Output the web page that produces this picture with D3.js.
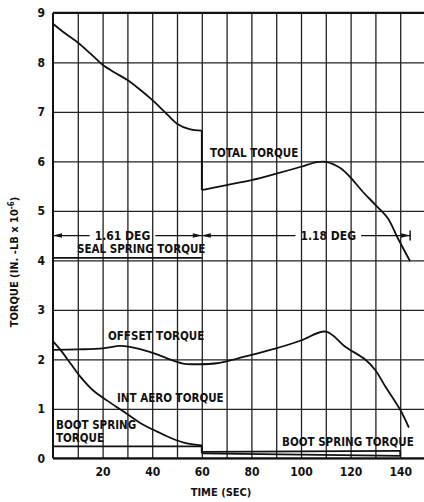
<!DOCTYPE html>
<html>
<head>
<meta charset="utf-8">
<script src="https://cdn.jsdelivr.net/npm/d3@7"></script>
<style>
  body { margin: 0; background: #fff; }
  svg { display: block; }
  text { font-family: "DejaVu Sans Condensed", "Liberation Sans Narrow", "Roboto Condensed", "Liberation Sans", sans-serif; fill: #111; }
</style>
</head>
<body>
<div id="chart"></div>
<script>
// chart values
const xTicks = [20, 40, 60, 80, 100, 120, 140];
const yTicks = [0, 1, 2, 3, 4, 5, 6, 7, 8, 9];
const xGrid = [10, 20, 30, 40, 50, 60, 70, 80, 90, 100, 110, 120, 130, 140];

// total torque, before and after the step at 60 sec
const totalTimeA = [0, 5, 10, 15, 20, 25, 30, 35, 40, 45, 50, 55, 60];
const totalTorqueA = [8.78, 8.58, 8.40, 8.18, 7.95, 7.79, 7.64, 7.45, 7.24, 7.00, 6.76, 6.65, 6.62];
const totalTimeB = [60, 70, 80, 90, 100, 106, 110, 116, 120, 125, 130, 135, 139, 144];
const totalTorqueB = [5.42, 5.52, 5.62, 5.75, 5.89, 5.98, 5.99, 5.86, 5.67, 5.38, 5.12, 4.85, 4.45, 3.98];

const offsetTime = [0, 10, 20, 27, 31, 39, 46, 52, 58, 66, 74, 80, 90, 100, 110, 118, 126, 130, 134, 140, 143.5];
const offsetTorque = [2.19, 2.20, 2.22, 2.27, 2.25, 2.15, 2.02, 1.92, 1.90, 1.92, 2.01, 2.09, 2.22, 2.38, 2.56, 2.25, 1.99, 1.78, 1.45, 0.98, 0.62];

const aeroTimeA = [0, 3, 7, 11, 16, 22, 28, 35, 42, 48, 54, 60];
const aeroTorqueA = [2.36, 2.19, 1.92, 1.65, 1.38, 1.16, 0.96, 0.72, 0.54, 0.40, 0.30, 0.26];
const aeroTimeB = [60, 140];
const aeroTorqueB = [0.10, 0.05];

const bootTimeA = [0, 60];
const bootTorqueA = [0.24, 0.24];
const bootTimeB = [60, 140];
const bootTorqueB = [0.13, 0.15];

const sealTime = [0, 60];
const sealTorque = [4.05, 4.05];

// dimension bars for the seal angles
const dimStart = [0, 60];
const dimEnd = [60, 144];
const dimLabel = ["1.61 DEG", "1.18 DEG"];
const dimLabelTime = [28, 111];
const dimTorque = 4.5;

const width = 424, height = 502;
const x = d3.scaleLinear().domain([0, 150]).range([53, 425]);
const y = d3.scaleLinear().domain([0, 9]).range([458.3, 12.8]);

const svg = d3.select("#chart").append("svg")
    .attr("width", width)
    .attr("height", height);

//grid
svg.append("g")
    .attr("transform", "translate(0," + y(0) + ")")
    .call(d3.axisBottom(x).tickValues(xGrid).tickSizeInner(-(y(0) - y(9))).tickSizeOuter(0).tickFormat(""))
    .call(g => g.select(".domain").remove())
    .call(g => g.selectAll("line").attr("stroke", "#222").attr("stroke-width", 1.3));

svg.append("g")
    .attr("transform", "translate(" + x(0) + ",0)")
    .call(d3.axisLeft(y).tickValues(yTicks).tickSizeInner(-(x(150) - x(0))).tickSizeOuter(0).tickFormat(""))
    .call(g => g.select(".domain").remove())
    .call(g => g.selectAll("line").attr("stroke", "#222").attr("stroke-width", 1.3));

//frame
svg.append("line")
    .attr("x1", x(0)).attr("x2", x(0))
    .attr("y1", y(0)).attr("y2", y(9))
    .attr("stroke", "#111").attr("stroke-width", 2);
svg.append("line")
    .attr("x1", x(0)).attr("x2", x(150))
    .attr("y1", y(0)).attr("y2", y(0))
    .attr("stroke", "#111").attr("stroke-width", 2);
svg.append("line")
    .attr("x1", x(0)).attr("x2", x(150))
    .attr("y1", y(9)).attr("y2", y(9))
    .attr("stroke", "#111").attr("stroke-width", 2);

//tick labels
svg.append("g")
    .attr("transform", "translate(0," + y(0) + ")")
    .call(d3.axisBottom(x).tickValues(xTicks).tickSize(0).tickPadding(9))
    .call(g => g.select(".domain").remove())
    .call(g => g.selectAll("text").attr("font-size", 12).attr("font-weight", "bold").style("font-family", null));

svg.append("g")
    .attr("transform", "translate(" + x(0) + ",0)")
    .call(d3.axisLeft(y).tickValues(yTicks).tickSize(0).tickPadding(8))
    .call(g => g.select(".domain").remove())
    .call(g => g.selectAll("text").attr("font-size", 12).attr("font-weight", "bold").style("font-family", null));

//axis titles
svg.append("text")
    .attr("x", 221).attr("y", 496)
    .attr("text-anchor", "middle")
    .attr("font-size", 11).attr("font-weight", "bold")
    .text("TIME (SEC)");

const yTitle = svg.append("text")
    .attr("transform", "translate(18,262) rotate(-90)")
    .attr("text-anchor", "middle")
    .attr("font-size", 11).attr("font-weight", "bold");
yTitle.append("tspan").text("TORQUE (IN. -LB x 10");
yTitle.append("tspan").attr("dy", -4).attr("font-size", 8).text("-6");
yTitle.append("tspan").attr("dy", 4).text(")");

//curves
const smooth = d3.curveCatmullRom.alpha(0.5);

function drawCurve(times, values, curve) {
    const pts = times.map((t, i) => [t, values[i]]);
    svg.append("path")
        .datum(pts)
        .attr("fill", "none")
        .attr("stroke", "#111")
        .attr("stroke-width", 1.8)
        .attr("d", d3.line().x(d => x(d[0])).y(d => y(d[1])).curve(curve || smooth));
}

function drawStep(t, from, to) { //vertical jump between two segments
    svg.append("line")
        .attr("x1", x(t)).attr("x2", x(t))
        .attr("y1", y(from)).attr("y2", y(to))
        .attr("stroke", "#111").attr("stroke-width", 1.8);
}

drawCurve(totalTimeA, totalTorqueA);
drawStep(60, totalTorqueA[totalTorqueA.length - 1], totalTorqueB[0]);
drawCurve(totalTimeB, totalTorqueB);

drawCurve(offsetTime, offsetTorque);

drawCurve(aeroTimeA, aeroTorqueA);
drawStep(60, aeroTorqueA[aeroTorqueA.length - 1], aeroTorqueB[0]);
drawCurve(aeroTimeB, aeroTorqueB, d3.curveLinear);

drawCurve(bootTimeA, bootTorqueA, d3.curveLinear);
drawStep(60, bootTorqueA[1], bootTorqueB[0]);
drawCurve(bootTimeB, bootTorqueB, d3.curveLinear);
drawStep(140, bootTorqueB[1], aeroTorqueB[1]);

drawCurve(sealTime, sealTorque, d3.curveLinear);

//dimension bars
dimStart.forEach((s, i) => {
    const yy = y(dimTorque);
    const cx = x(dimLabelTime[i]);
    const txt = svg.append("text")
        .attr("x", cx).attr("y", yy + 4)
        .attr("text-anchor", "middle")
        .attr("font-size", 12).attr("font-weight", "bold")
        .text(dimLabel[i]);
    const half = txt.node().getComputedTextLength() / 2 + 5;
    [[x(s), cx - half], [cx + half, x(dimEnd[i])]].forEach(seg => {
        svg.append("line")
            .attr("x1", seg[0]).attr("x2", seg[1])
            .attr("y1", yy).attr("y2", yy)
            .attr("stroke", "#111").attr("stroke-width", 1.3);
    });
    // arrow heads at both ends
    [[x(s), 1], [x(dimEnd[i]), -1]].forEach(a => {
        svg.append("path")
            .attr("d", "M" + a[0] + "," + yy + "l" + (a[1] * 9) + ",-2.2v4.4z")
            .attr("fill", "#111");
    });
});
// end mark of the second bar
svg.append("line")
    .attr("x1", x(dimEnd[1])).attr("x2", x(dimEnd[1]))
    .attr("y1", y(dimTorque) - 5).attr("y2", y(dimTorque) + 5)
    .attr("stroke", "#111").attr("stroke-width", 1.5);

//curve labels
const labels = [
    { text: "TOTAL TORQUE", x: 210, y: 157 },
    { text: "SEAL SPRING TORQUE", x: 77, y: 253 },
    { text: "OFFSET TORQUE", x: 108, y: 340 },
    { text: "INT AERO TORQUE", x: 117, y: 402 },
    { text: "BOOT SPRING", x: 56, y: 429 },
    { text: "TORQUE", x: 56, y: 442 },
    { text: "BOOT SPRING TORQUE", x: 282, y: 446 }
];
svg.selectAll(".curve-label")
    .data(labels)
    .enter().append("text")
    .attr("class", "curve-label")
    .attr("x", d => d.x)
    .attr("y", d => d.y)
    .attr("font-size", 11.5)
    .attr("font-weight", "bold")
    .text(d => d.text);
</script>
</body>
</html>
